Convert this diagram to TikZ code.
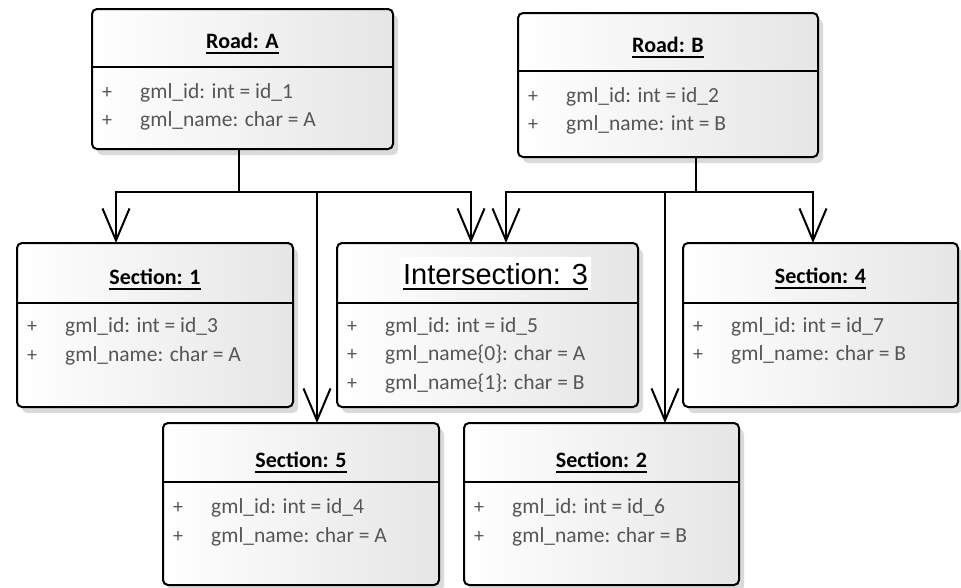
\documentclass[tikz,border=0pt]{standalone}
\usepackage{fontspec}
\setmainfont{Carlito}
\newfontfamily\arialfont{Liberation Sans}
\usetikzlibrary{arrows.meta}

\definecolor{attrgray}{RGB}{85,85,85}
\definecolor{shadowgray}{RGB}{218,218,218}

\tikzset{
  classframe/.style={draw=black, line width=2pt, rounded corners=5pt,
    left color=white, right color=black!10, inner sep=0pt, outer sep=0pt},
  boxshadow/.style={fill=shadowgray, rounded corners=5pt},
  divider/.style={draw=black, line width=1.6pt},
  classtitle/.style={font=\fontsize{22}{26}\selectfont\bfseries, inner sep=0pt, anchor=base},
  titleline/.style={line width=1.8pt},
  plussign/.style={font=\fontsize{20}{24}\selectfont, text=attrgray, inner sep=0pt, anchor=base},
  attrtext/.style={font=\fontsize{21.5}{26}\selectfont, text=attrgray, inner sep=0pt, anchor=base west},
  link/.style={draw=black, line width=2pt},
  assoc/.style={link, -{Straight Barb[length=32pt, width=27pt, line width=2pt]}},
}

% class box: name, left, top, right, bottom, divider y
\newcommand\umlclass[6]{%
  \fill[boxshadow] ({#2+5},{#3+6}) rectangle ({#4+5},{#5+6});
  \node[classframe, minimum width={#4-#2}, minimum height={#5-#3}]
    (#1) at ({(#2+#4)/2},{(#3+#5)/2}) {};
  \draw[divider] (#2,#6) -- (#4,#6);
}
% underlined bold title: name, centre x, baseline y, text
\newcommand\umltitle[4]{%
  \node[classtitle] (#1) at (#2,#3) {#4};
  \draw[titleline] ([yshift=-5pt]#1.base west) -- ([yshift=-5pt]#1.base east);
}
% attribute row: name, box left, baseline y, text
\newcommand\umlattr[4]{%
  \node[plussign] (#1-p) at ({#2+15},#3) {+};
  \node[attrtext] (#1-a) at ({#2+48},#3) {#4};
}

\begin{document}
\begin{tikzpicture}[x=1pt, y=-1pt]
\useasboundingbox (0,0) rectangle (961,587);

% ---- Road A
\umlclass{roadA}{92}{9}{393}{149}{67}
\umltitle{roadA-t}{242.5}{48}{Road: A}
\umlattr{roadA-1}{92}{98}{gml\_id: int = id\_1}
\umlattr{roadA-2}{92}{126}{gml\_name: char = A}

% ---- Road B
\umlclass{roadB}{518}{13}{818}{157}{71}
\umltitle{roadB-t}{668}{52}{Road: B}
\umlattr{roadB-1}{518}{102}{gml\_id: int = id\_2}
\umlattr{roadB-2}{518}{130}{gml\_name: int = B}

% ---- Section 1
\umlclass{sec1}{17}{243}{293}{407}{303}
\umltitle{sec1-t}{155}{284}{Section: 1}
\umlattr{sec1-1}{17}{332}{gml\_id: int = id\_3}
\umlattr{sec1-2}{17}{361}{gml\_name: char = A}

% ---- Intersection 3
\umlclass{inter}{337}{243}{638}{407}{303}
\node[font=\arialfont\fontsize{29}{32}\selectfont, fill=white, inner xsep=3pt,
  inner ysep=0pt, text height=27pt, text depth=6pt, anchor=base]
  (inter-t) at (495.5,284) {Intersection: 3};
\draw[line width=1.6pt] ([xshift=3pt,yshift=-5pt]inter-t.base west) -- ([xshift=-3pt,yshift=-5pt]inter-t.base east);
\umlattr{inter-1}{337}{332}{gml\_id: int = id\_5}
\umlattr{inter-2}{337}{360}{gml\_name\{0\}: char = A}
\umlattr{inter-3}{337}{389}{gml\_name\{1\}: char = B}

% ---- Section 4
\umlclass{sec4}{683}{243}{958}{407}{303}
\umltitle{sec4-t}{820.5}{283}{Section: 4}
\umlattr{sec4-1}{683}{332}{gml\_id: int = id\_7}
\umlattr{sec4-2}{683}{360}{gml\_name: char = B}

% ---- Section 5
\umlclass{sec5}{163}{423}{439}{585}{482}
\umltitle{sec5-t}{301}{467}{Section: 5}
\umlattr{sec5-1}{163}{513}{gml\_id: int = id\_4}
\umlattr{sec5-2}{163}{542}{gml\_name: char = A}

% ---- Section 2
\umlclass{sec2}{464}{423}{739}{585}{482}
\umltitle{sec2-t}{601.5}{467}{Section: 2}
\umlattr{sec2-1}{464}{513}{gml\_id: int = id\_6}
\umlattr{sec2-2}{464}{542}{gml\_name: char = B}

% ---- connectors from Road A
\coordinate (busA) at (239,192);
\draw[link] (roadA.south -| busA) -- (busA);
\draw[assoc] (busA) -| ([xshift=116pt]sec1.north -| 0,0);
\draw[assoc] (busA) -| ([xshift=317pt]sec5.north -| 0,0);
\draw[assoc] (busA) -| ([xshift=471pt]inter.north -| 0,0);

% ---- connectors from Road B
\coordinate (busB) at (696,192);
\draw[link] (roadB.south -| busB) -- (busB);
\draw[assoc] (busB) -| ([xshift=506pt]inter.north -| 0,0);
\draw[assoc] (busB) -| ([xshift=665pt]sec2.north -| 0,0);
\draw[assoc] (busB) -| ([xshift=813pt]sec4.north -| 0,0);
\end{tikzpicture}
\end{document}
